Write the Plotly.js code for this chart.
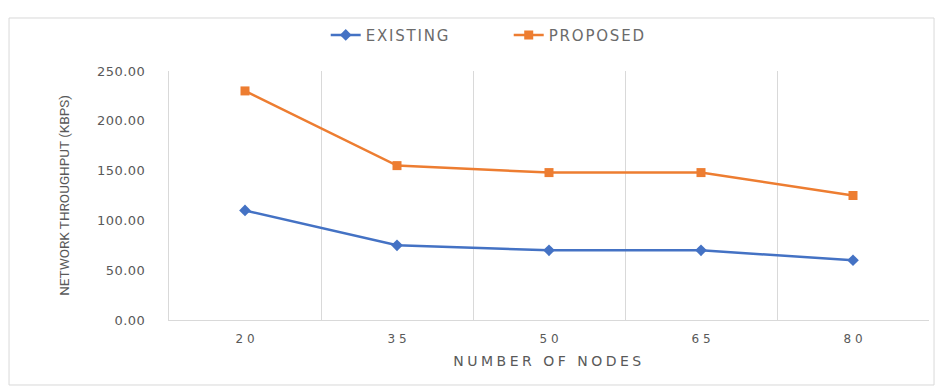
<!DOCTYPE html>
<html><head><meta charset="utf-8">
<script src="https://cdn.plot.ly/plotly-3.0.1.min.js"></script>
<style>html,body{margin:0;padding:0;background:#fff}#chart{width:951px;height:390px}
text.xtitle{letter-spacing:3.5px}
text.legendtext{letter-spacing:1.8px}
#chart g.ytick text{letter-spacing:0.5px}
</style>
</head><body><div id="chart"></div>
<script>
const categories = ["20", "35", "50", "65", "80"];
const existing = [110, 75, 70, 70, 60];
const proposed = [230, 155, 148, 148, 125];
const yTicks = [0, 50, 100, 150, 200, 250];
const yTickText = ["0.00", "50.00", "100.00", "150.00", "200.00", "250.00"];
const xTickText = ["2 0", "3 5", "5 0", "6 5", "8 0"];

const traces = [
  {x: categories, y: existing, name: "EXISTING", type: "scatter", mode: "lines+markers",
   line: {color: "#4472C4", width: 2.5}, marker: {symbol: "diamond", size: 9, color: "#4472C4"}},
  {x: categories, y: proposed, name: "PROPOSED", type: "scatter", mode: "lines+markers",
   line: {color: "#ED7D31", width: 2.5}, marker: {symbol: "square", size: 9, color: "#ED7D31"}}
];

const layout = {
  width: 951, height: 390,
  margin: {l: 169, r: 22, t: 71, b: 70},
  paper_bgcolor: "#fff", plot_bgcolor: "#fff",
  font: {family: "DejaVu Sans, sans-serif", color: "#595959", size: 12},
  showlegend: true,
  legend: {orientation: "h", x: 0.447, xanchor: "center", y: 1.21, yanchor: "top",
           font: {family: "DejaVu Sans, sans-serif", size: 15, color: "#6b6b6b"},
           entrywidth: 138, tracegroupgap: 0},
  xaxis: {type: "category", tickson: "boundaries", showgrid: true, gridcolor: "#d9d9d9", gridwidth: 1,
          showline: true, linecolor: "#d9d9d9", ticks: "", tickvals: categories, ticktext: xTickText,
          ticklabelstandoff: 8,
          tickfont: {size: 12, color: "#595959"}, range: [-0.5, 4.5],
          title: {text: "NUMBER OF NODES", font: {family: "DejaVu Sans, sans-serif", size: 14, color: "#595959"}, standoff: 10}},
  yaxis: {range: [0, 250], tickvals: yTicks, ticktext: yTickText, showgrid: false, zeroline: false,
          showline: true, linecolor: "#d9d9d9", ticks: "", ticklabelstandoff: 20,
          tickfont: {size: 13, color: "#595959"},
          title: {text: "NETWORK THROUGHPUT (KBPS)", font: {family: "Liberation Sans Narrow, Roboto, sans-serif", size: 13.5, color: "#595959"}, standoff: 27}},
  shapes: [{type: "rect", xref: "paper", yref: "paper", x0: -0.2105, x1: 1.0066, y0: -0.261, y1: 1.2129,
            line: {color: "#d9d9d9", width: 1}, fillcolor: "rgba(0,0,0,0)"}]
};
Plotly.newPlot("chart", traces, layout, {displayModeBar: false, staticPlot: true});
</script></body></html>
